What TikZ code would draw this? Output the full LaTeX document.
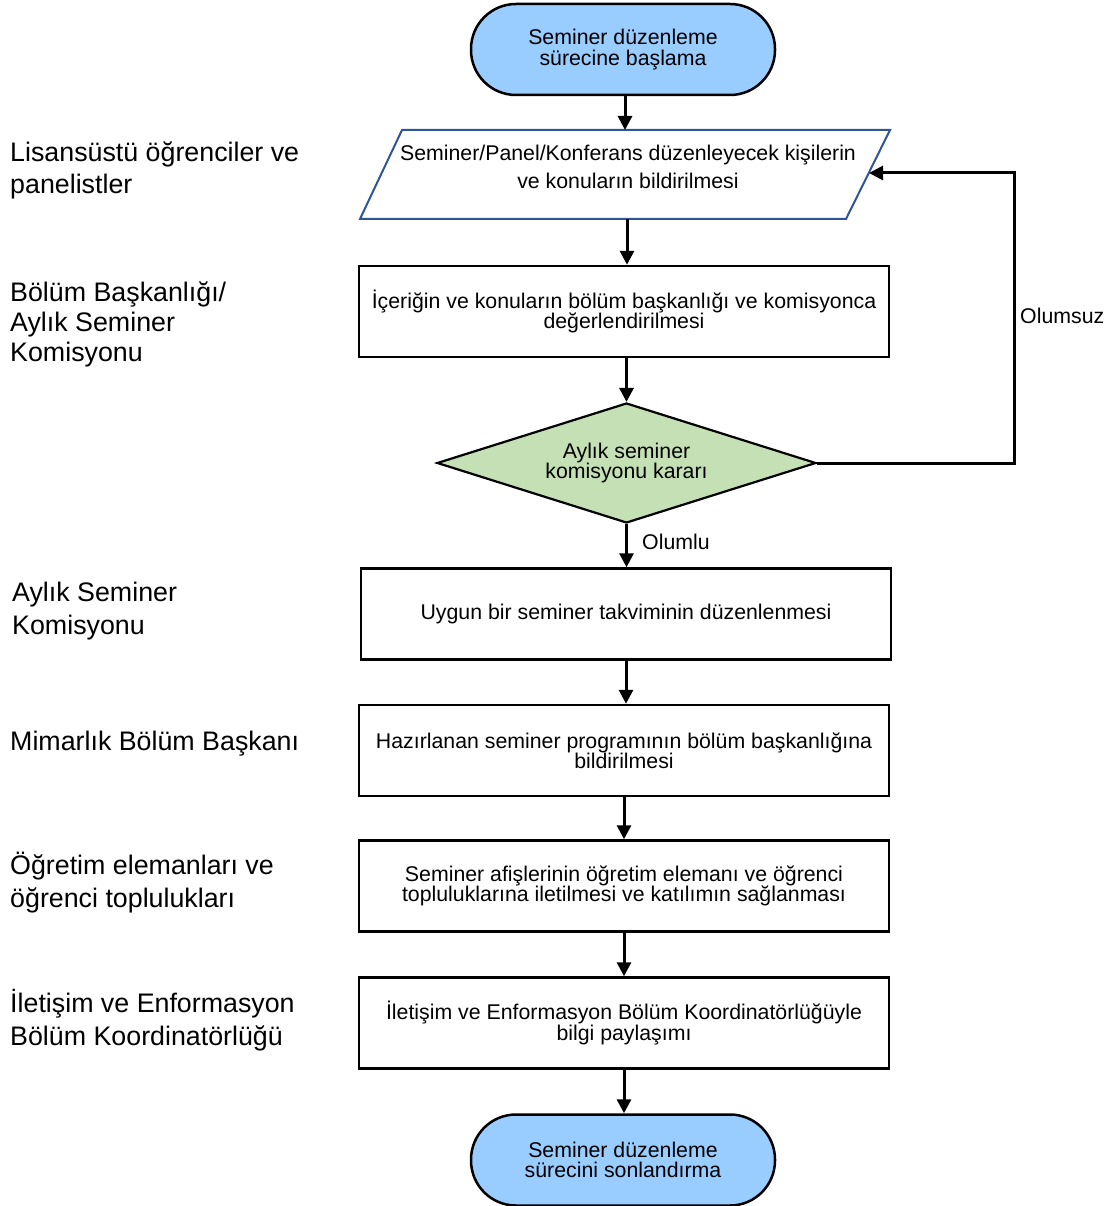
\documentclass[tikz,border=0pt]{standalone}
\usepackage{fontspec}
\setmainfont{Liberation Sans}
\usetikzlibrary{shapes.geometric,arrows.meta}
\definecolor{termblue}{HTML}{99CCFF}
\definecolor{decgreen}{HTML}{C5E0B4}
\definecolor{parablue}{HTML}{2F5597}
\begin{document}
\begin{tikzpicture}[x=1pt,y=-1pt,
  boxtext/.style={font=\fontsize{21.3}{20.5}\selectfont, align=center},
  process/.style={boxtext, draw, line width=2.5pt, minimum width=530pt, minimum height=91pt, inner sep=0pt},
  terminal/.style={boxtext, draw, fill=termblue, line width=2.5pt, rounded corners=45pt, minimum width=304pt, minimum height=91pt, inner sep=0pt},
  decision/.style={boxtext, diamond, draw, fill=decgreen, line width=2.2pt, aspect=3.16, minimum width=379pt, minimum height=120pt, inner sep=0pt},
  sidelabel/.style={font=\fontsize{26.8}{32}\selectfont, align=left, anchor=west, inner sep=0pt},
  edgelabel/.style={font=\fontsize{21.3}{21}\selectfont, anchor=west, inner sep=0pt},
  flow/.style={-{Triangle[length=14pt,width=14pt]}, line width=3pt}
]
\useasboundingbox (0,0) rectangle (1109,1206);

% side labels
\node[sidelabel] (l1) at (10,170) {Lisansüstü öğrenciler ve\\panelistler};
\node[sidelabel, font=\fontsize{26.8}{30}\selectfont] (l2) at (10,324) {Bölüm Başkanlığı/\\Aylık Seminer\\Komisyonu};
\node[sidelabel, font=\fontsize{26.8}{33}\selectfont] (l3) at (12,611.5) {Aylık Seminer\\Komisyonu};
\node[sidelabel] (l4) at (10,744) {Mimarlık Bölüm Başkanı};
\node[sidelabel, font=\fontsize{26.8}{33}\selectfont] (l5) at (10,883) {Öğretim elemanları ve\\öğrenci toplulukları};
\node[sidelabel, font=\fontsize{26.8}{33}\selectfont] (l6) at (10,1020) {İletişim ve Enformasyon\\Bölüm Koordinatörlüğü};

% flow nodes
\node[terminal] (start) at (623,49.5) {Seminer düzenleme\\sürecine başlama};

\coordinate (ptl) at (402,130);
\coordinate (ptr) at (890,130);
\coordinate (pbr) at (846,219);
\coordinate (pbl) at (360,219);
\draw[parablue, line width=2pt, line join=miter] (ptl) -- (ptr) -- (pbr) -- (pbl) -- cycle;
\coordinate (ptop) at (625,130);
\coordinate (pbot) at (627,219);
\coordinate (pe) at (869,173);
\node[boxtext, font=\fontsize{21.3}{28}\selectfont, inner sep=0pt] (p) at (628,167) {Seminer/Panel/Konferans düzenleyecek kişilerin\\ve konuların bildirilmesi};

\node[process] (b1) at (624,311.5) {İçeriğin ve konuların bölüm başkanlığı ve komisyonca\\değerlendirilmesi};
\node[decision] (d) at (626.5,463) {Aylık seminer\\komisyonu kararı};
\node[process] (b2) at (626,614) {Uygun bir seminer takviminin düzenlenmesi};
\node[process] (b3) at (624,750.5) {Hazırlanan seminer programının bölüm başkanlığına\\bildirilmesi};
\node[process] (b4) at (624,886) {Seminer afişlerinin öğretim elemanı ve öğrenci\\topluluklarına iletilmesi ve katılımın sağlanması};
\node[process] (b5) at (624,1023) {İletişim ve Enformasyon Bölüm Koordinatörlüğüyle\\bilgi paylaşımı};
\node[terminal] (end) at (623,1160) {Seminer düzenleme\\sürecini sonlandırma};

% connectors
\draw[flow] (start.south -| ptop) -- (ptop);
\draw[flow] (pbot) -- (pbot |- b1.north);
\draw[flow] (d.north |- b1.south) -- (d.north);
\draw[flow] (d.south) -- (d.south |- b2.north);
\draw[flow] (b2.south) -- (b2.south |- b3.north);
\draw[flow] (b3.south) -- (b3.south |- b4.north);
\draw[flow] (b4.south) -- (b4.south |- b5.north);
\draw[flow] (b5.south) -- (b5.south |- end.north);

\coordinate (fbx) at (1014,300);
\draw[flow, line join=miter] (d.east) -- (d.east -| fbx) -- (fbx |- pe) -- (pe);

\node[edgelabel] (olumlu) at (642,542) {Olumlu};
\node[edgelabel] (olumsuz) at (1020,316) {Olumsuz};
\end{tikzpicture}
\end{document}
